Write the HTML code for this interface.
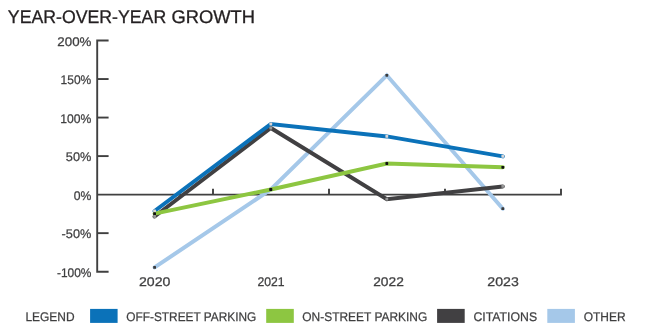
<!DOCTYPE html>
<html><head><meta charset="utf-8">
<style>
html,body{margin:0;padding:0;background:#fff;width:650px;height:333px;overflow:hidden}
svg{display:block;will-change:transform}
text{font-family:"Liberation Sans",sans-serif;text-rendering:geometricPrecision}
</style></head><body>
<svg width="650" height="333" viewBox="0 0 650 333">
<g stroke="#404040" stroke-width="1.9" fill="none" stroke-linecap="butt">
<path d="M108.6 40.50 H97.2 V271.68 H108.6"/>
<path d="M97.2 79.03 H108.6"/>
<path d="M97.2 117.56 H108.6"/>
<path d="M97.2 156.09 H108.6"/>
<path d="M97.2 233.15 H108.6"/>
<path d="M97.2 194.62 H561 V188.8 M213 194.62 V188.8 M329 194.62 V188.8 M445 194.62 V188.8"/>
</g>
<g fill="none" stroke-width="4.0" stroke-linejoin="miter" stroke-linecap="round">
<polyline stroke="#a5c8e9" points="154.60,267.40 270.80,189.50 386.80,75.30 502.80,208.70"/>
<polyline stroke="#414042" points="154.60,216.50 270.80,128.00 386.80,199.20 502.80,186.40"/>
<polyline stroke="#0b72b9" points="154.60,211.00 270.80,124.00 386.80,136.40 502.80,156.40"/>
<polyline stroke="#8dc641" points="154.60,213.60 270.80,189.50 386.80,163.50 502.80,167.30"/>
</g>
<g>
<rect x="153.20" y="266.00" width="2.8" height="2.8" rx="0.6" fill="#3a3a3a"/>
<rect x="269.40" y="188.10" width="2.8" height="2.8" rx="0.6" fill="#3a3a3a"/>
<rect x="385.40" y="73.90" width="2.8" height="2.8" rx="0.6" fill="#3a3a3a"/>
<rect x="501.40" y="207.30" width="2.8" height="2.8" rx="0.6" fill="#3a3a3a"/>
<rect x="153.20" y="215.10" width="2.8" height="2.8" rx="0.6" fill="#999999"/>
<rect x="269.40" y="126.60" width="2.8" height="2.8" rx="0.6" fill="#999999"/>
<rect x="385.40" y="197.80" width="2.8" height="2.8" rx="0.6" fill="#999999"/>
<rect x="501.40" y="185.00" width="2.8" height="2.8" rx="0.6" fill="#999999"/>
<rect x="153.20" y="209.60" width="2.8" height="2.8" rx="0.6" fill="#dcd6d6"/>
<rect x="269.40" y="122.60" width="2.8" height="2.8" rx="0.6" fill="#dcd6d6"/>
<rect x="385.40" y="135.00" width="2.8" height="2.8" rx="0.6" fill="#dcd6d6"/>
<rect x="501.40" y="155.00" width="2.8" height="2.8" rx="0.6" fill="#dcd6d6"/>
<rect x="153.20" y="212.20" width="2.8" height="2.8" rx="0.6" fill="#111111"/>
<rect x="269.40" y="188.10" width="2.8" height="2.8" rx="0.6" fill="#111111"/>
<rect x="385.40" y="162.10" width="2.8" height="2.8" rx="0.6" fill="#111111"/>
<rect x="501.40" y="165.90" width="2.8" height="2.8" rx="0.6" fill="#111111"/>
</g>
<g>
<rect x="90.1" y="308.9" width="27.5" height="14" fill="#0b72b9"/>
<rect x="266.2" y="308.9" width="27.6" height="14" fill="#8dc641"/>
<rect x="437.1" y="308.9" width="27.6" height="14" fill="#414042"/>
<rect x="547.3" y="308.9" width="27.6" height="14" fill="#a5c8e9"/>
</g>
<g id="texts">
<text id="t_title1" x="7.86" y="23.00" font-size="18.20" textLength="158.35" lengthAdjust="spacingAndGlyphs" fill="#231f20" stroke="#231f20" stroke-width="0.3">YEAR-OVER-YEAR</text>
<text id="t_title2" x="171.41" y="23.00" font-size="18.20" textLength="83.56" lengthAdjust="spacingAndGlyphs" fill="#231f20" stroke="#231f20" stroke-width="0.3">GROWTH</text>
<text id="y200" x="57.39" y="46.00" font-size="12.55" textLength="34.09" lengthAdjust="spacingAndGlyphs" fill="#3f3f40" stroke="#3f3f40" stroke-width="0.25">200%</text>
<text id="y150" x="60.56" y="84.00" font-size="12.55" textLength="30.73" lengthAdjust="spacingAndGlyphs" fill="#3f3f40" stroke="#3f3f40" stroke-width="0.25">150%</text>
<text id="y100" x="60.27" y="123.00" font-size="12.55" textLength="31.08" lengthAdjust="spacingAndGlyphs" fill="#3f3f40" stroke="#3f3f40" stroke-width="0.25">100%</text>
<text id="y50" x="65.88" y="161.00" font-size="12.55" textLength="25.52" lengthAdjust="spacingAndGlyphs" fill="#3f3f40" stroke="#3f3f40" stroke-width="0.25">50%</text>
<text id="y0" x="73.73" y="200.00" font-size="12.55" textLength="17.63" lengthAdjust="spacingAndGlyphs" fill="#3f3f40" stroke="#3f3f40" stroke-width="0.25">0%</text>
<text id="ym50" x="61.58" y="238.00" font-size="12.55" textLength="29.73" lengthAdjust="spacingAndGlyphs" fill="#3f3f40" stroke="#3f3f40" stroke-width="0.25">-50%</text>
<text id="ym100" x="56.93" y="277.00" font-size="12.55" textLength="34.50" lengthAdjust="spacingAndGlyphs" fill="#3f3f40" stroke="#3f3f40" stroke-width="0.25">-100%</text>
<text id="x2020" x="139.02" y="286.00" font-size="12.55" textLength="31.44" lengthAdjust="spacingAndGlyphs" fill="#3f3f40" stroke="#3f3f40" stroke-width="0.25">2020</text>
<text id="x2021" x="257.39" y="286.00" font-size="12.55" textLength="27.15" lengthAdjust="spacingAndGlyphs" fill="#3f3f40" stroke="#3f3f40" stroke-width="0.25">2021</text>
<text id="x2022" x="373.22" y="286.00" font-size="12.55" textLength="30.63" lengthAdjust="spacingAndGlyphs" fill="#3f3f40" stroke="#3f3f40" stroke-width="0.25">2022</text>
<text id="x2023" x="487.33" y="286.00" font-size="12.55" textLength="31.54" lengthAdjust="spacingAndGlyphs" fill="#3f3f40" stroke="#3f3f40" stroke-width="0.25">2023</text>
<text id="l0" x="25.43" y="321.00" font-size="12.55" textLength="49.18" lengthAdjust="spacingAndGlyphs" fill="#3f3f40" stroke="#3f3f40" stroke-width="0.25">LEGEND</text>
<text id="l1" x="126.31" y="321.00" font-size="12.55" textLength="129.96" lengthAdjust="spacingAndGlyphs" fill="#3f3f40" stroke="#3f3f40" stroke-width="0.25">OFF-STREET PARKING</text>
<text id="l2" x="302.29" y="321.00" font-size="12.55" textLength="124.97" lengthAdjust="spacingAndGlyphs" fill="#3f3f40" stroke="#3f3f40" stroke-width="0.25">ON-STREET PARKING</text>
<text id="l3" x="473.45" y="321.00" font-size="12.55" textLength="63.72" lengthAdjust="spacingAndGlyphs" fill="#3f3f40" stroke="#3f3f40" stroke-width="0.25">CITATIONS</text>
<text id="l4" x="583.70" y="321.00" font-size="12.55" textLength="41.89" lengthAdjust="spacingAndGlyphs" fill="#3f3f40" stroke="#3f3f40" stroke-width="0.25">OTHER</text>
</g>
</svg>
</body></html>
